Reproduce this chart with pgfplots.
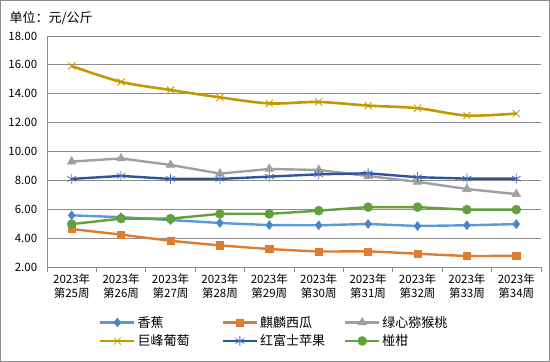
\documentclass[border=0pt]{standalone}
\usepackage{fontspec}
\setmainfont{Noto Sans CJK SC}
\usepackage{pgfplots}
\pgfplotsset{compat=1.18}
\definecolor{cBan}{HTML}{5B9BD5}
\definecolor{cBanM}{HTML}{4A86C5}
\definecolor{cMel}{HTML}{E07B30}
\definecolor{cKiwi}{HTML}{A0A0A0}
\definecolor{cGrape}{HTML}{C49800}
\definecolor{cApple}{HTML}{2F5597}
\definecolor{cAppleM}{HTML}{4472C4}
\definecolor{cOr}{HTML}{639F3E}
\definecolor{cGrid}{HTML}{8C8C8C}
\begin{document}
\begin{tikzpicture}[x=1pt,y=1pt]
\useasboundingbox (0,0) rectangle (550,362);
\draw[cGrid,line width=0.8pt] (0.5,0.5) rectangle (549.5,361.5);
\node[anchor=west,font=\fontsize{13}{14}\selectfont] at (6,344) {单位：元/公斤};
\begin{axis}[
  at={(47pt,95pt)}, anchor=south west,
  scale only axis, width=494pt, height=231pt,
  xmin=-0.5, xmax=9.5, ymin=2, ymax=18,
  ytick={2,4,...,18},
  yticklabel style={/pgf/number format/fixed,/pgf/number format/fixed zerofill,/pgf/number format/precision=2,font=\fontsize{11.5}{12}\selectfont, xshift=-2pt},
  /pgf/number format/assume math mode=true,
  ymajorgrids, grid style={cGrid,line width=0.8pt},
  xtick={0,...,9},
  xticklabels={{2023年\\第25周},{2023年\\第26周},{2023年\\第27周},{2023年\\第28周},{2023年\\第29周},{2023年\\第30周},{2023年\\第31周},{2023年\\第32周},{2023年\\第33周},{2023年\\第34周}},
  xticklabel style={align=center,font=\fontsize{11.5}{13.5}\selectfont, yshift=1pt},
  major x tick style={draw=none},
  minor xtick={-0.5,0.5,...,9.5},
  minor tick length=5pt,
  minor x tick style={cGrid,line width=0.8pt},
  major y tick style={draw=none},
  tick align=outside,
  xtick pos=bottom, ytick pos=left,
  axis x line*=bottom, axis y line*=left,
  axis line style={cGrid,line width=0.8pt},
  every outer y axis line/.append style={-},
  every outer x axis line/.append style={-},
  legend columns=3,
  legend style={draw=none, at={(0.105,-0.195)}, anchor=north west, font=\fontsize{13}{14}\selectfont,
    row sep=2pt, inner xsep=0pt},
  legend cell align=left,
  legend image code/.code={\draw[mark repeat=2,mark phase=2] plot coordinates {(0pt,0pt) (17pt,0pt) (34pt,0pt)};},
]
\addplot[cBan, line width=2.4pt, mark=diamond*, mark size=4.5pt, mark options={fill=cBanM,draw=cBanM,line width=0.5pt}]
 coordinates {(0,5.58)(1,5.45)(2,5.25)(3,5.05)(4,4.9)(5,4.89)(6,4.98)(7,4.84)(8,4.89)(9,4.97)};
\addlegendentry{\makebox[82pt][l]{香蕉}}
\addplot[cMel, line width=2.4pt, smooth, mark=square*, mark size=3.6pt, mark options={fill=cMel,draw=cMel,line width=0.5pt}]
 coordinates {(0,4.63)(1,4.24)(2,3.82)(3,3.5)(4,3.25)(5,3.08)(6,3.08)(7,2.92)(8,2.77)(9,2.78)};
\addlegendentry{\makebox[82pt][l]{麒麟西瓜}}
\addplot[cKiwi, line width=2.4pt, mark=triangle*, mark size=5pt, mark options={fill=cKiwi,draw=cKiwi,line width=0.5pt}]
 coordinates {(0,9.3)(1,9.52)(2,9.07)(3,8.47)(4,8.79)(5,8.72)(6,8.3)(7,7.9)(8,7.4)(9,7.05)};
\addlegendentry{绿心猕猴桃}
\addplot[cGrape, line width=2.6pt, smooth, mark=x, mark size=5pt, mark options={draw=cGrape,line width=0.8pt}]
 coordinates {(0,15.92)(1,14.82)(2,14.26)(3,13.75)(4,13.33)(5,13.43)(6,13.18)(7,13.0)(8,12.49)(9,12.63)};
\addlegendentry{\makebox[82pt][l]{巨峰葡萄}}
\addplot[cApple, line width=2.4pt, mark=asterisk, mark size=5pt, mark options={draw=cAppleM,line width=0.8pt}]
 coordinates {(0,8.1)(1,8.31)(2,8.1)(3,8.1)(4,8.26)(5,8.42)(6,8.49)(7,8.22)(8,8.12)(9,8.12)};
\addlegendentry{\makebox[82pt][l]{红富士苹果}}
\addplot[cOr, line width=2.4pt, mark=*, mark size=4.5pt, mark options={fill=cOr,draw=cOr,line width=0.5pt}]
 coordinates {(0,4.97)(1,5.35)(2,5.35)(3,5.68)(4,5.68)(5,5.9)(6,6.15)(7,6.15)(8,5.97)(9,5.97)};
\addlegendentry{椪柑}
\end{axis}
\end{tikzpicture}
\end{document}
